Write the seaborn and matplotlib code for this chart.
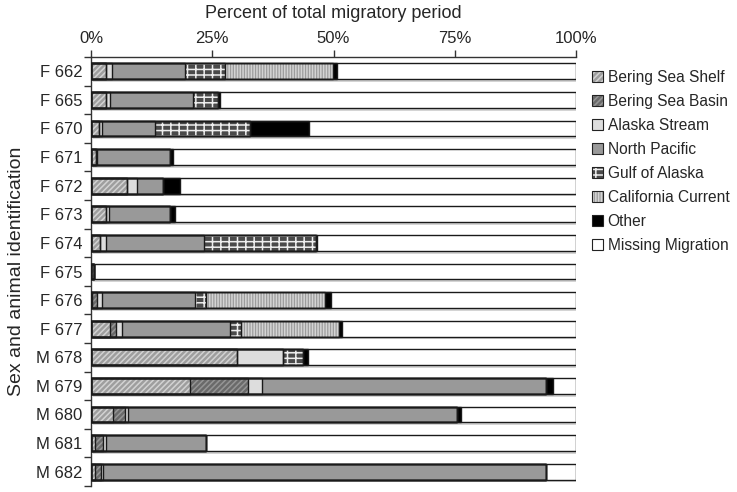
import numpy as np
import pandas as pd
import seaborn as sns
import matplotlib
matplotlib.use("Agg")
import matplotlib.pyplot as plt
from matplotlib.patches import Patch
from matplotlib.legend_handler import HandlerTuple
from matplotlib import patheffects as pe

ids = ['F 662', 'F 665', 'F 670', 'F 671', 'F 672', 'F 673', 'F 674', 'F 675',
       'F 676', 'F 677', 'M 678', 'M 679', 'M 680', 'M 681', 'M 682']
bering_shelf = [3.1, 3.1, 1.7, 1.0, 7.4, 3.1, 1.9, 0.6, 0.3, 3.9, 30.0, 20.5, 4.5, 0.8, 0.8]
bering_basin = [0, 0, 0, 0, 0, 0, 0, 0, 0.9, 1.2, 0, 11.9, 2.5, 1.6, 1.2]
alaska_stream = [1.3, 0.8, 0.5, 0.3, 2.0, 0.7, 1.2, 0, 1.0, 1.2, 9.5, 2.9, 0.7, 0.6, 0.5]
north_pacific = [15.0, 17.2, 11.0, 15.0, 5.5, 12.5, 20.3, 0, 19.3, 22.3, 0, 58.5, 67.8, 20.7, 91.4]
gulf_alaska = [8.2, 5.0, 19.5, 0, 0, 0, 23.0, 0, 2.3, 2.4, 4.3, 0, 0, 0, 0]
calif_current = [22.3, 0, 0, 0, 0, 0, 0, 0, 24.4, 20.1, 0, 0, 0, 0, 0]
other = [0.8, 0.6, 12.2, 0.7, 3.4, 1.0, 0.3, 0, 1.2, 0.7, 1.0, 1.5, 0.7, 0, 0]

regions = ['Bering Sea Shelf', 'Bering Sea Basin', 'Alaska Stream', 'North Pacific',
           'Gulf of Alaska', 'California Current', 'Other', 'Missing Migration']
x_ticks = [0, 25, 50, 75, 100]

df = pd.DataFrame({'id': ids,
                   'Bering Sea Shelf': bering_shelf,
                   'Bering Sea Basin': bering_basin,
                   'Alaska Stream': alaska_stream,
                   'North Pacific': north_pacific,
                   'Gulf of Alaska': gulf_alaska,
                   'California Current': calif_current,
                   'Other': other})
df['Missing Migration'] = 100 - df[regions[:-1]].sum(axis=1)
cum = df[regions].cumsum(axis=1)
cum['id'] = df['id']

# style per region: face, hatch, hatch colour
styles = {
    'Bering Sea Shelf': ('#9e9e9e', '//////', '#d2d2d2'),
    'Bering Sea Basin': ('#6a6a6a', '//////', '#959595'),
    'Alaska Stream': ('#dddddd', None, None),
    'North Pacific': ('#999999', None, None),
    'Gulf of Alaska': ('#4a4a4a', '---||', '#eeeeee'),
    'California Current': ('#9c9c9c', '||||||', '#d4d4d4'),
    'Other': ('#000000', None, None),
    'Missing Migration': ('#ffffff', None, None),
}

sns.set_style('white')
plt.rcParams['font.family'] = ['Liberation Sans', 'DejaVu Sans']
plt.rcParams['hatch.linewidth'] = 1.1

fig = plt.figure(figsize=(7.37, 4.92), dpi=100)
ax = fig.add_axes([91 / 737, 1 - 486 / 492, (576 - 91) / 737, (486 - 57) / 492])

bar_w = 0.55
# fills, from the largest cumulative to the smallest
for reg in reversed(regions):
    face, hatch, hcol = styles[reg]
    n_before = len(ax.patches)
    sns.barplot(data=cum, x=reg, y='id', orient='h', color=face, saturation=1,
                width=bar_w, ax=ax, hatch=hatch,
                edgecolor=hcol if hcol else face, linewidth=0)
    if reg == 'Missing Migration':
        for p in ax.patches[n_before:]:
            p.set_path_effects([pe.SimplePatchShadow(offset=(1.5, -2), alpha=0.25,
                                                     shadow_rgbFace='#555555'),
                                pe.Normal()])
# outlines on top
for reg in regions:
    n_before = len(ax.patches)
    sns.barplot(data=cum, x=reg, y='id', orient='h', fill=False, width=bar_w, ax=ax,
                edgecolor='#1a1a1a', linewidth=1.0)
    for p in ax.patches[n_before:]:
        p.set_zorder(5)

ax.set_xlim(0, 100)
ax.set_ylim(len(ids) - 0.5, -0.5)
ax.xaxis.tick_top()
ax.xaxis.set_label_position('top')
ax.set_xticks(x_ticks)
ax.set_xticklabels([f'{t}%' for t in x_ticks], fontsize=12)
ax.set_xlabel('Percent of total migratory period', fontsize=13, labelpad=9)
ax.set_ylabel('Sex and animal identification', fontsize=14, labelpad=8)
ax.tick_params(axis='x', direction='out', length=5, width=1, color='#333333', pad=3, top=True, bottom=False)
ax.tick_params(axis='y', which='major', length=0, labelsize=12, pad=6)
ax.set_yticks(np.arange(len(ids) + 1) - 0.5, minor=True)
ax.tick_params(axis='y', which='minor', direction='out', length=5, width=1, color='#333333', left=True)
for s in ['right', 'bottom']:
    ax.spines[s].set_visible(False)
for s in ['top', 'left']:
    ax.spines[s].set_visible(True)
    ax.spines[s].set_color('#333333')
    ax.spines[s].set_linewidth(1)
ax.grid(False)

handles = []
for reg in regions:
    face, hatch, hcol = styles[reg]
    fillp = Patch(facecolor=face, hatch=hatch, edgecolor=hcol if hcol else face, linewidth=0)
    edgep = Patch(facecolor='none', edgecolor='#222222', linewidth=0.8)
    handles.append((fillp, edgep))
fig.legend(handles, regions, handler_map={tuple: HandlerTuple(ndivide=1, pad=0)},
           loc='upper left', bbox_to_anchor=(578 / 737, 1 - 56 / 492), frameon=False,
           fontsize=11.2, handlelength=0.7, handleheight=0.7, handletextpad=0.3,
           labelspacing=0.58)

fig.savefig('out.png', dpi=100)
